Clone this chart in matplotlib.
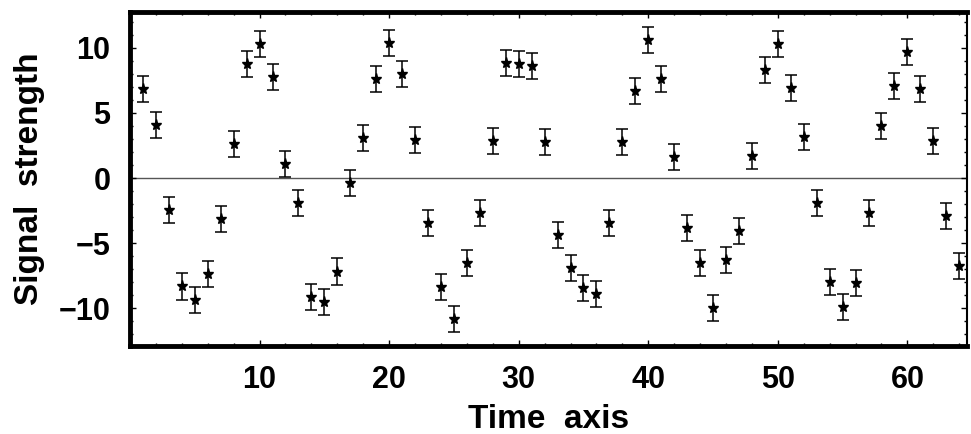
import numpy as np
import matplotlib
matplotlib.use("Agg")
import matplotlib.pyplot as plt
from matplotlib.ticker import MultipleLocator

# sample index and measured signal with a unit error on each point
time_idx = list(range(1, 65))
signal = [6.87, 4.06, -2.45, -8.33, -9.35, -7.38, -3.17, 2.58, 8.79, 10.27,
          7.79, 1.10, -1.94, -9.17, -9.55, -7.18, -0.36, 3.04, 7.59, 10.40,
          7.97, 2.91, -3.47, -8.40, -10.83, -6.54, -2.71, 2.84, 8.84, 8.74,
          8.58, 2.73, -4.37, -6.92, -8.45, -8.92, -3.47, 2.79, 6.67, 10.57,
          7.64, 1.64, -3.86, -6.54, -9.99, -6.28, -4.04, 1.71, 8.28, 10.32,
          6.92, 3.12, -1.94, -7.99, -9.91, -8.07, -2.71, 4.01, 7.05, 9.68,
          6.87, 2.84, -2.91, -6.72]
signal_err = [1.0] * 64

x_ticks = [10, 20, 30, 40, 50, 60]
y_ticks = [-10, -5, 0, 5, 10]

plt.rcParams['font.family'] = ['Liberation Sans', 'DejaVu Sans']
plt.rcParams['font.weight'] = 'bold'

fig = plt.figure(figsize=(9.71, 4.34), dpi=100)
ax = fig.add_axes([130 / 971, 1 - 346 / 434, 837 / 971, 334 / 434])

# zero reference line
ax.axhline(0, color='#555555', lw=1.0, zorder=1)

ax.errorbar(time_idx, signal, yerr=signal_err, fmt='*', color='black',
            markersize=8, ecolor='black', elinewidth=1.1, capsize=4,
            capthick=1.1, zorder=3)

ax.set_xlim(0, 64.6)
ax.set_ylim(-12.9, 12.75)
ax.set_xticks(x_ticks)
ax.set_yticks(y_ticks)
ax.set_yticklabels(['\u221210', '\u22125', '0', '5', '10'])
ax.xaxis.set_minor_locator(MultipleLocator(2))
ax.yaxis.set_minor_locator(MultipleLocator(1))
ax.tick_params(which='both', direction='in', top=True, right=True,
               labelsize=22, width=1)
ax.tick_params(which='major', length=4, pad=14)
ax.tick_params(which='minor', length=2)

for side in ['left', 'bottom', 'top']:
    ax.spines[side].set_linewidth(3.5)
ax.spines['right'].set_linewidth(1.5)

ax.set_xlabel('Time  axis', fontsize=24, fontweight='bold', labelpad=6)
ax.set_ylabel('Signal  strength', fontsize=24, fontweight='bold', labelpad=10)

fig.savefig('out.png', dpi=100)
